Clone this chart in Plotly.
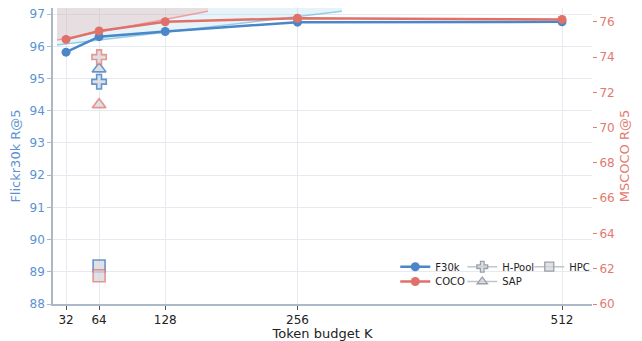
import plotly.graph_objects as go

# ---------------- data ----------------
budgets = [32, 64, 128, 256, 512]
f30k = [95.82, 96.30, 96.46, 96.75, 96.76]
coco = [75.0, 75.48, 76.0, 76.2, 76.13]

budget_64 = [64]
hpool_f30k = [94.9]
hpool_coco = [74.0]
sap_f30k = [95.3]
sap_coco = [71.3]
hpc_f30k = [89.18]
hpc_coco = [61.6]

# shaded trend bands (left-axis units)
band_blue_x = [23.3, 299.0, 299.0, 23.3]
band_blue_y = [96.04, 97.09, 97.19, 97.19]
band_red_x = [23.3, 169.4, 169.4, 23.3]
band_red_y = [96.2, 97.09, 97.19, 97.19]
trend_blue_x = [23.3, 299.0]
trend_blue_y = [96.04, 97.09]
trend_red_x = [23.3, 169.4]
trend_red_y = [96.2, 97.09]

x_ticks = [32, 64, 128, 256, 512]
left_ticks = list(range(88, 98))
right_ticks = list(range(60, 78, 2))

BLUE = "#4a86c8"
RED = "#e07068"
BLUE_TXT = "#5b93d3"
RED_TXT = "#e27a70"
FONT = "DejaVu Sans"

fig = go.Figure()

# bands
fig.add_trace(go.Scatter(x=band_blue_x, y=band_blue_y, fill="toself", mode="none",
                         fillcolor="rgba(173,216,235,0.3)", showlegend=False, hoverinfo="skip"))
fig.add_trace(go.Scatter(x=band_red_x, y=band_red_y, fill="toself", mode="none",
                         fillcolor="rgba(236,159,157,0.25)", showlegend=False, hoverinfo="skip"))
fig.add_trace(go.Scatter(x=trend_blue_x, y=trend_blue_y, mode="lines",
                         line=dict(color="rgba(120,195,230,0.8)", width=1.5),
                         showlegend=False, hoverinfo="skip"))
fig.add_trace(go.Scatter(x=trend_red_x, y=trend_red_y, mode="lines",
                         line=dict(color="rgba(240,140,140,0.8)", width=1.5),
                         showlegend=False, hoverinfo="skip"))

# main lines
fig.add_trace(go.Scatter(x=budgets, y=f30k, mode="lines+markers", name="F30k",
                         line=dict(color=BLUE, width=2.5), marker=dict(size=9, color=BLUE),
                         legend="legend"))
fig.add_trace(go.Scatter(x=budgets, y=coco, mode="lines+markers", name="COCO", yaxis="y2",
                         line=dict(color=RED, width=2.5), marker=dict(size=9, color=RED),
                         legend="legend2"))

MFILL = "rgba(215,215,220,0.75)"

def pt(y, sym, col, axis="y"):
    fig.add_trace(go.Scatter(x=budget_64, y=y, mode="markers", yaxis=axis, showlegend=False,
                             marker=dict(symbol=sym, size=12, color=MFILL,
                                         line=dict(color=col, width=1.6))))

pt(hpool_f30k, "cross", "rgba(74,134,200,0.85)")
pt(sap_f30k, "triangle-up", "rgba(74,134,200,0.85)")
pt(hpc_f30k, "square", "rgba(74,134,200,0.85)")
pt(hpool_coco, "cross", "rgba(224,112,104,0.7)", "y2")
pt(sap_coco, "triangle-up", "rgba(224,112,104,0.7)", "y2")
pt(hpc_coco, "square", "rgba(224,112,104,0.7)", "y2")

# legend dummies
def dummy(name, sym, leg):
    fig.add_trace(go.Scatter(x=[None], y=[None], mode="lines+markers", name=name,
                             line=dict(color="#c0c4cc", width=1.5),
                             marker=dict(symbol=sym, size=9, color=MFILL,
                                         line=dict(color="#9aa0aa", width=1.3)),
                             legend=leg))

dummy("H-Pool", "cross", "legend")
dummy("HPC", "square", "legend")
dummy("SAP", "triangle-up", "legend2")

GRID = "#e6e9f0"
AXL = "#aab8c8"

# page body has an 8px margin, so the figure is shrunk and margins adjusted
fig.update_layout(
    width=634, height=333,
    margin=dict(l=45, r=50, t=0, b=37, autoexpand=False),
    paper_bgcolor="white", plot_bgcolor="white",
    font=dict(family=FONT, size=11, color="#222"),
    xaxis=dict(range=[19.4, 541], tickvals=x_ticks, ticks="outside", ticklen=4,
               tickcolor="#555", showgrid=True, gridcolor=GRID, zeroline=False,
               showline=True, linecolor=AXL, linewidth=1.5, automargin=False,
               ticklabeloverflow="allow",
               tickfont=dict(size=12, color="#222"),
               title=dict(text="Token budget K", font=dict(size=13, color="#222"), standoff=4)),
    yaxis=dict(range=[88, 97.19], tickvals=left_ticks, ticks="outside", ticklen=4,
               tickcolor=AXL, showgrid=True, gridcolor=GRID, zeroline=False,
               showline=True, linecolor=AXL, linewidth=1.5, automargin=False,
               ticklabeloverflow="allow",
               tickfont=dict(size=12, color=BLUE_TXT),
               title=dict(text="Flickr30k R@5", font=dict(size=13, color=BLUE_TXT), standoff=6)),
    yaxis2=dict(range=[60, 76.78], tickvals=right_ticks, overlaying="y", side="right",
                ticks="outside", ticklen=4, tickcolor=RED_TXT, showgrid=False, zeroline=False,
                showline=False, automargin=False, ticklabeloverflow="allow",
                tickfont=dict(size=12, color=RED_TXT),
                title=dict(text="MSCOCO R@5", font=dict(size=13, color=RED_TXT), standoff=6)),
    legend=dict(orientation="h", x=0.635, y=0.175, xanchor="left", yanchor="top",
                bgcolor="rgba(255,255,255,0)", font=dict(size=10, color="#222"),
                itemwidth=30, entrywidth=22, tracegroupgap=0),
    legend2=dict(orientation="h", x=0.635, y=0.125, xanchor="left", yanchor="top",
                 bgcolor="rgba(255,255,255,0)", font=dict(size=10, color="#222"),
                 itemwidth=30, entrywidth=22),
)

fig.write_html("out.html")
